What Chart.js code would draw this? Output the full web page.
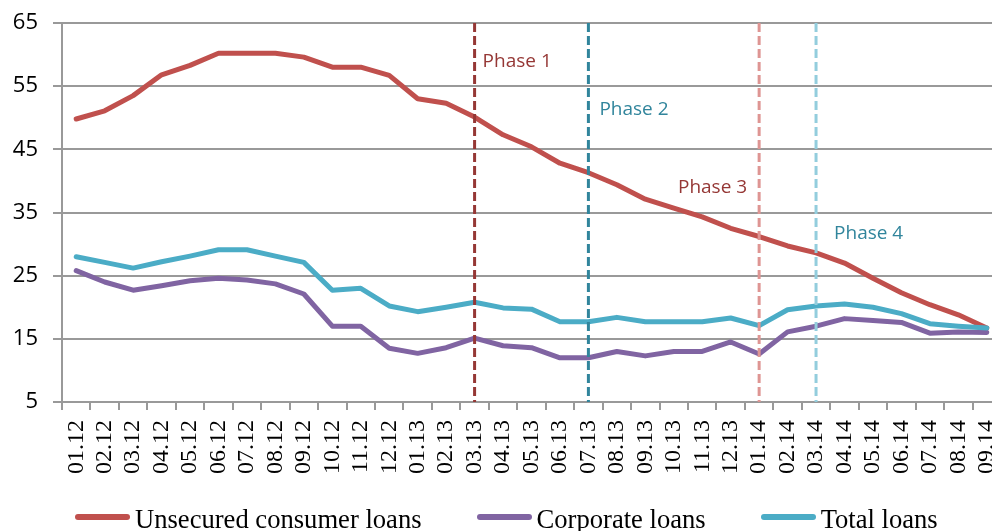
<!DOCTYPE html>
<html lang="en">
<head>
<meta charset="UTF-8">
<title>Loan rates by phase</title>
<script src="https://cdn.jsdelivr.net/npm/chart.js"></script>
<style>
    html, body { margin: 0; padding: 0; background: #fff; overflow: hidden; }
    .chart-container { position: relative; width: 1001px; height: 531px; }
    .legend {
        position: absolute; left: 75px; top: 506px;
        display: flex; align-items: center;
        font-family: "Liberation Serif", serif; font-size: 26.6px; line-height: 26px; color: #000;
        white-space: nowrap;
    }
    .legend-item { display: flex; align-items: center; margin-right: 55px; }
    .legend-line { width: 55px; height: 6px; border-radius: 3px; margin-right: 5px; position: relative; top: -2px; }
</style>
</head>
<body>
<div class="chart-container">
    <canvas id="loansChart"></canvas>
    <div class="legend" id="legend"></div>
</div>
<script>
    // Data
    const months = ['01.12', '02.12', '03.12', '04.12', '05.12', '06.12', '07.12', '08.12', '09.12', '10.12', '11.12', '12.12',
        '01.13', '02.13', '03.13', '04.13', '05.13', '06.13', '07.13', '08.13', '09.13', '10.13', '11.13', '12.13',
        '01.14', '02.14', '03.14', '04.14', '05.14', '06.14', '07.14', '08.14', '09.14'];
    const unsecuredConsumer = [49.8, 51.1, 53.5, 56.8, 58.3, 60.2, 60.2, 60.2, 59.6, 58.0, 58.0, 56.7,
        53.0, 52.3, 50.1, 47.3, 45.4, 42.8, 41.3, 39.4, 37.1, 35.7, 34.3, 32.5,
        31.2, 29.7, 28.6, 27.0, 24.6, 22.3, 20.4, 18.8, 16.7];
    const corporate = [25.8, 24.0, 22.7, 23.4, 24.2, 24.6, 24.3, 23.7, 22.1, 17.0, 17.0, 13.5,
        12.7, 13.6, 15.1, 13.9, 13.6, 12.0, 12.0, 13.0, 12.3, 13.0, 13.0, 14.5,
        12.6, 16.1, 17.0, 18.2, 17.9, 17.6, 15.9, 16.1, 16.0];
    const total = [28.0, 27.1, 26.2, 27.2, 28.1, 29.1, 29.1, 28.1, 27.1, 22.7, 23.0, 20.2,
        19.3, 20.0, 20.8, 19.9, 19.7, 17.7, 17.7, 18.4, 17.7, 17.7, 17.7, 18.3,
        17.1, 19.6, 20.2, 20.5, 20.0, 19.0, 17.4, 17.0, 16.7];
    const seriesNames = ['Unsecured consumer loans', 'Corporate loans', 'Total loans'];
    const phaseMonths = ['03.13', '07.13', '01.14', '03.14'];
    const phaseNames = ['Phase 1', 'Phase 2', 'Phase 3', 'Phase 4'];

    const seriesColors = ['#C0504D', '#8064A2', '#4BACC6'];
    const gridColor = '#999999';

    // Phase marker styling (label y given in axis units)
    const phaseStyles = [
        { line: '#953735', text: '#953735', dx: 8, align: 'left', labelY: 58.0 },
        { line: '#31859C', text: '#31859C', dx: 11, align: 'left', labelY: 50.4 },
        { line: '#DE9593', text: '#953735', dx: -12, align: 'right', labelY: 38.1 },
        { line: '#93CDDD', text: '#31859C', dx: 18, align: 'left', labelY: 30.8 }
    ];

    const phaseLines = {
        id: 'phaseLines',
        afterDatasetsDraw(chart) {
            const { ctx, chartArea, scales } = chart;
            phaseMonths.forEach((m, i) => {
                const st = phaseStyles[i];
                const px = scales.x.getPixelForValue(months.indexOf(m));
                ctx.save();
                ctx.strokeStyle = st.line;
                ctx.lineWidth = 3;
                ctx.setLineDash([9, 4]);
                ctx.beginPath();
                ctx.moveTo(px, chartArea.top);
                ctx.lineTo(px, chartArea.bottom);
                ctx.stroke();
                ctx.setLineDash([]);
                ctx.font = '19px "Open Sans"';
                ctx.fillStyle = st.text;
                ctx.textAlign = st.align;
                ctx.textBaseline = 'alphabetic';
                ctx.fillText(phaseNames[i], px + st.dx, scales.y.getPixelForValue(st.labelY));
                ctx.restore();
            });
        }
    };

    const seriesData = [unsecuredConsumer, corporate, total];
    const drawOrder = [2, 1, 0]; // total on top

    const ctx = document.getElementById('loansChart').getContext('2d');
    const loansChart = new Chart(ctx, {
        type: 'line',
        data: {
            labels: months,
            datasets: seriesData.map((d, i) => ({
                label: seriesNames[i],
                data: d,
                borderColor: seriesColors[i],
                backgroundColor: seriesColors[i],
                borderWidth: 5,
                pointRadius: 0,
                tension: 0,
                fill: false,
                borderJoinStyle: 'round',
                borderCapStyle: 'round',
                order: drawOrder[i]
            }))
        },
        options: {
            responsive: true,
            maintainAspectRatio: false,
            animation: false,
            layout: { padding: { top: 23, right: 0, bottom: 0, left: 0 } },
            plugins: {
                legend: { display: false },
                tooltip: { enabled: false }
            },
            scales: {
                x: {
                    offset: true,
                    grid: { offset: true, drawOnChartArea: false, drawTicks: true, tickLength: 8, color: gridColor, lineWidth: 2 },
                    border: { color: gridColor, width: 2 },
                    ticks: {
                        autoSkip: false, minRotation: 90, maxRotation: 90, padding: 10,
                        color: '#000', font: { family: 'Liberation Serif', size: 24 }
                    },
                    afterFit(s) { s.height = 129; s.paddingLeft = 0; s.paddingRight = 0; }
                },
                y: {
                    min: 5,
                    max: 65,
                    ticks: { stepSize: 10, padding: 15, color: '#000', font: { family: 'Open Sans', size: 22 } },
                    grid: { color: gridColor, lineWidth: 2, tickLength: 9 },
                    border: { color: gridColor, width: 2 },
                    afterFit(s) { s.width = 62; s.paddingTop = 0; s.paddingBottom = 0; }
                }
            }
        },
        plugins: [phaseLines]
    });

    // HTML legend built from the series
    const legendEl = document.getElementById('legend');
    seriesNames.forEach((name, i) => {
        const item = document.createElement('div');
        item.className = 'legend-item';
        const line = document.createElement('span');
        line.className = 'legend-line';
        line.style.background = seriesColors[i];
        const text = document.createElement('span');
        text.textContent = name;
        item.appendChild(line);
        item.appendChild(text);
        legendEl.appendChild(item);
    });
</script>
</body>
</html>
